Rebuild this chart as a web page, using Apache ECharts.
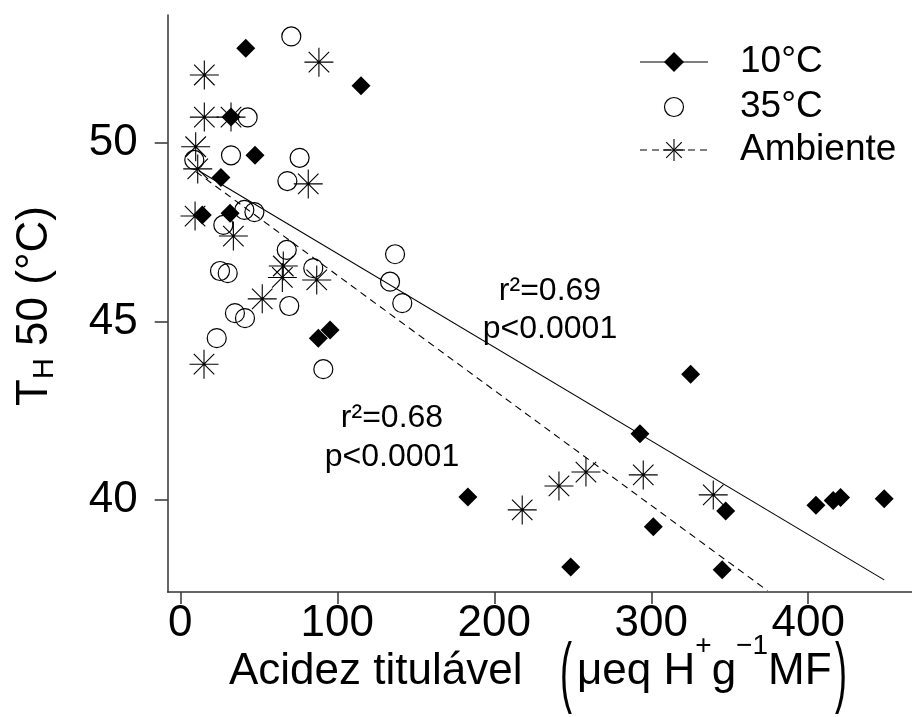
<!DOCTYPE html>
<html><head><meta charset="utf-8">
<script src="https://cdn.jsdelivr.net/npm/echarts@6/dist/echarts.min.js"></script>
<style>html,body{margin:0;padding:0;background:#fff}#c{width:912px;height:717px}</style>
</head><body><div id="c"></div>
<script>
// ---- data ----
const xTicks = [0, 100, 200, 300, 400];
const yTicks = [40, 45, 50];

// 10°C (filled diamonds)
const x10 = [41.7, 115.1, 32.3, 47.6, 25.9, 14.0, 31.7, 87.9, 95.4, 183.2, 248.7, 325.1, 292.8, 301.3, 347.4, 345.2, 404.9, 415.9, 420.6, 448.4];
const y10 = [52.66, 51.61, 50.73, 49.66, 49.04, 47.99, 48.04, 44.54, 44.77, 40.09, 38.13, 43.53, 41.86, 39.26, 39.70, 38.05, 39.86, 39.99, 40.08, 40.04];

// 35°C (open circles)
const x35 = [70.7, 42.9, 32.3, 76.0, 68.2, 8.9, 47.2, 40.8, 27.4, 67.8, 136.8, 25.3, 30.2, 84.7, 133.6, 141.4, 69.4, 34.8, 41.2, 23.2, 91.1];
const y35 = [52.99, 50.72, 49.66, 49.59, 48.94, 49.53, 48.07, 48.13, 47.71, 47.01, 46.89, 46.42, 46.36, 46.50, 46.12, 45.52, 45.44, 45.24, 45.10, 44.54, 43.67];

// Ambiente (asterisks)
const xAmb = [88.3, 15.3, 15.3, 32.3, 9.8, 11.1, 81.5, 9.4, 33.8, 65.6, 65.0, 86.9, 52.2, 15.1, 217.8, 241.2, 258.4, 294.9, 339.5];
const yAmb = [52.27, 51.91, 50.73, 50.73, 49.90, 49.28, 48.86, 47.96, 47.40, 46.56, 46.24, 46.17, 45.64, 43.81, 39.73, 40.40, 40.79, 40.71, 40.15];

// regression lines (end points)
const fit10X = [12.0, 448.4];
const fit10Y = [49.22, 37.77];
const fitAmbX = [10.0, 374.0];
const fitAmbY = [49.20, 37.47];

const seriesNames = ['10°C', '35°C', 'Ambiente'];
const annotTexts = [['r²=0.69', 'p<0.0001'], ['r²=0.68', 'p<0.0001']];

// ---- chart ----
const FONT = '"Liberation Sans", Arial, sans-serif';
const ASTER = 'path://M0,-10L0,10M-10,0L10,0M-7.07,-7.07L7.07,7.07M-7.07,7.07L7.07,-7.07';
const pairs = (xs, ys) => xs.map((x, i) => [x, ys[i]]);

function asteriskLines(cx, cy, r, lw) {
  const d = r * Math.SQRT1_2;
  return [[0, -r, 0, r], [-r, 0, r, 0], [-d, -d, d, d], [-d, d, d, -d]].map(s => ({
    type: 'line', shape: {x1: cx + s[0], y1: cy + s[1], x2: cx + s[2], y2: cy + s[3]},
    style: {stroke: '#000', lineWidth: lw}
  }));
}

const legendX = 674, legendTextX = 740, legendRows = [62, 107, 150];
const graphics = [];
// legend row 1
graphics.push({type: 'line', shape: {x1: 640, y1: legendRows[0], x2: 708, y2: legendRows[0]}, style: {stroke: '#000', lineWidth: 1.2}});
graphics.push({type: 'polygon', shape: {points: [[legendX, legendRows[0] - 10], [legendX + 10, legendRows[0]], [legendX, legendRows[0] + 10], [legendX - 10, legendRows[0]]]}, style: {fill: '#000'}});
// legend row 2
graphics.push({type: 'circle', shape: {cx: legendX, cy: legendRows[1], r: 9.5}, style: {fill: 'none', stroke: '#000', lineWidth: 1.2}});
// legend row 3
graphics.push({type: 'line', shape: {x1: 640, y1: legendRows[2], x2: 708, y2: legendRows[2]}, style: {stroke: '#000', lineWidth: 1.1, lineDash: [7, 5]}});
asteriskLines(legendX, legendRows[2], 11, 1.1).forEach(g => graphics.push(g));
seriesNames.forEach((n, i) => graphics.push({
  type: 'text', x: legendTextX, y: legendRows[i],
  style: {text: n, fontSize: 37, fontFamily: FONT, fill: '#000', align: 'left', verticalAlign: 'middle'}
}));

// annotations
const annotPos = [[550, 291.5, 329], [392, 418.5, 457.5]];
annotTexts.forEach((t, i) => {
  graphics.push({type: 'text', x: annotPos[i][0], y: annotPos[i][1], style: {text: t[0], fontSize: 32, fontFamily: FONT, fill: '#000', align: 'center', verticalAlign: 'middle'}});
  graphics.push({type: 'text', x: annotPos[i][0], y: annotPos[i][2], style: {text: t[1], fontSize: 32, fontFamily: FONT, fill: '#000', align: 'center', verticalAlign: 'middle'}});
});

// y axis title
graphics.push({
  type: 'text', x: 35, y: 306, rotation: Math.PI / 2,
  style: {
    text: '{a|T}{s|H}{a| 50 (°C)}', fill: '#000', align: 'center', verticalAlign: 'middle',
    rich: {
      a: {fontSize: 44, fontFamily: FONT, lineHeight: 48, verticalAlign: 'middle'},
      s: {fontSize: 29, fontFamily: FONT, lineHeight: 28, verticalAlign: 'bottom'}
    }
  }
});

// x axis title
graphics.push({type: 'text', x: 229, y: 672, style: {text: 'Acidez titulável', fontSize: 44, fontFamily: FONT, fill: '#000', align: 'left', verticalAlign: 'middle'}});
graphics.push({type: 'text', x: 566, y: 677, scaleY: 2.15, style: {text: '(', fontSize: 36, fontFamily: FONT, fill: '#000', align: 'center', verticalAlign: 'middle'}});
graphics.push({type: 'text', x: 841, y: 677, scaleY: 2.15, style: {text: ')', fontSize: 36, fontFamily: FONT, fill: '#000', align: 'center', verticalAlign: 'middle'}});
graphics.push({
  type: 'text', x: 577, y: 672,
  style: {
    text: '{a|μeq H}{s|+}{a|g}{s|−1}{a|MF}', fill: '#000', align: 'left', verticalAlign: 'middle',
    rich: {
      a: {fontSize: 44, fontFamily: FONT, lineHeight: 80, verticalAlign: 'middle'},
      s: {fontSize: 28, fontFamily: FONT, lineHeight: 34, verticalAlign: 'top'}
    }
  }
});

const axisCommon = {
  type: 'value',
  axisLine: {show: true, onZero: false, lineStyle: {color: '#333', width: 1.5}},
  splitLine: {show: false},
  axisTick: {show: true, inside: false, lineStyle: {color: '#333', width: 1.5}},
  axisLabel: {color: '#000', fontFamily: FONT, fontSize: 44}
};

const chart = echarts.init(document.getElementById('c'), null, {renderer: 'canvas'});
chart.setOption({
  animation: false,
  backgroundColor: '#fff',
  grid: {left: 167.7, right: 0, top: 15, bottom: 125, containLabel: false},
  xAxis: Object.assign({}, axisCommon, {
    min: -8.03, max: 466.1,
    axisTick: Object.assign({}, axisCommon.axisTick, {length: 12, customValues: xTicks}),
    axisLabel: Object.assign({}, axisCommon.axisLabel, {margin: 10, customValues: xTicks})
  }),
  yAxis: Object.assign({}, axisCommon, {
    min: 37.43, max: 53.59,
    axisTick: Object.assign({}, axisCommon.axisTick, {length: 13, customValues: yTicks}),
    axisLabel: Object.assign({}, axisCommon.axisLabel, {margin: 30, customValues: yTicks})
  }),
  series: [
    {name: seriesNames[0], type: 'scatter', data: pairs(x10, y10), symbol: 'diamond', symbolSize: 19,
     itemStyle: {color: '#000', opacity: 1}, z: 3},
    {name: seriesNames[1], type: 'scatter', data: pairs(x35, y35), symbol: 'circle', symbolSize: 19,
     itemStyle: {color: 'rgba(0,0,0,0)', borderColor: '#000', borderWidth: 1.2, opacity: 1}, z: 3},
    {name: seriesNames[2], type: 'scatter', data: pairs(xAmb, yAmb), symbol: ASTER, symbolSize: 29,
     itemStyle: {color: 'rgba(0,0,0,0)', borderColor: '#000', borderWidth: 1.1, opacity: 1}, z: 3},
    {name: 'fit10', type: 'line', data: pairs(fit10X, fit10Y), symbol: 'none', showSymbol: false,
     lineStyle: {color: '#000', width: 1.1, type: 'solid'}, z: 4, silent: true},
    {name: 'fitAmb', type: 'line', data: pairs(fitAmbX, fitAmbY), symbol: 'none', showSymbol: false,
     lineStyle: {color: '#000', width: 1.1, type: [7, 5]}, z: 4, silent: true}
  ],
  graphic: graphics
});
</script>
</body></html>
